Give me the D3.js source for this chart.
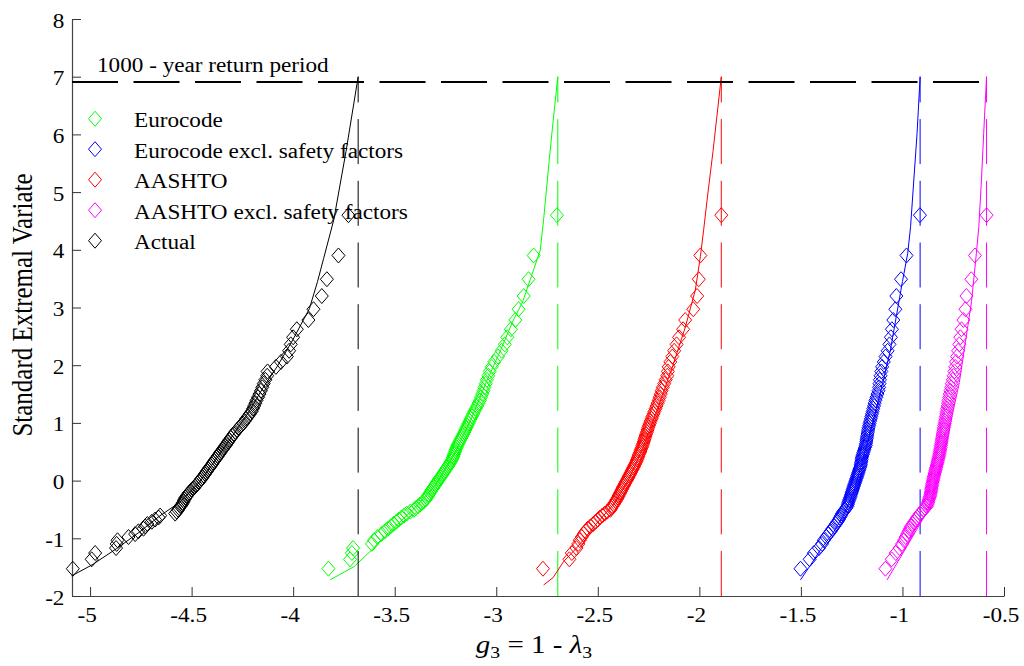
<!DOCTYPE html>
<html><head><meta charset="utf-8">
<script src="https://cdn.jsdelivr.net/npm/d3@7"></script>
<style>
body{margin:0;background:#fff}
svg{display:block}
text{font-family:"Liberation Serif","Times New Roman",serif;fill:#000}
</style>
</head><body><div id="chart"></div>
<script>
// Standard extremal (Gumbel reduced) variate of each ranked observation
const reducedVariate = [-1.527,-1.364,-1.255,-1.169,-1.097,-1.034,-0.978,-0.927,-0.879,-0.834,
-0.792,-0.752,-0.713,-0.676,-0.640,-0.606,-0.572,-0.539,-0.507,-0.476,
-0.445,-0.415,-0.385,-0.356,-0.327,-0.298,-0.270,-0.241,-0.213,-0.186,
-0.158,-0.131,-0.103,-0.076,-0.049,-0.021,0.006,0.033,0.060,0.087,
0.115,0.142,0.170,0.197,0.225,0.253,0.281,0.309,0.338,0.367,
0.396,0.425,0.454,0.484,0.514,0.545,0.576,0.608,0.639,0.672,
0.705,0.738,0.772,0.807,0.842,0.878,0.915,0.953,0.991,1.031,
1.072,1.113,1.156,1.200,1.246,1.293,1.342,1.392,1.445,1.500,
1.557,1.617,1.680,1.747,1.817,1.892,1.971,2.057,2.150,2.250,
2.361,2.484,2.623,2.783,2.970,3.199,3.490,3.902,4.600];

const gEurocode = [-3.826,-3.720,-3.711,-3.705,-3.612,-3.602,-3.585,-3.565,-3.548,-3.534,
-3.519,-3.506,-3.492,-3.480,-3.467,-3.454,-3.441,-3.423,-3.405,-3.396,
-3.385,-3.375,-3.365,-3.355,-3.347,-3.342,-3.337,-3.332,-3.327,-3.322,
-3.317,-3.311,-3.306,-3.300,-3.295,-3.290,-3.285,-3.280,-3.274,-3.269,
-3.264,-3.258,-3.253,-3.248,-3.242,-3.237,-3.232,-3.227,-3.222,-3.217,
-3.214,-3.211,-3.208,-3.205,-3.202,-3.199,-3.195,-3.191,-3.187,-3.182,
-3.177,-3.172,-3.167,-3.162,-3.157,-3.152,-3.147,-3.142,-3.137,-3.131,
-3.126,-3.120,-3.114,-3.108,-3.101,-3.094,-3.087,-3.080,-3.075,-3.069,
-3.063,-3.058,-3.052,-3.046,-3.039,-3.032,-3.022,-3.010,-2.991,-2.974,
-2.958,-2.946,-2.928,-2.906,-2.890,-2.865,-2.841,-2.816,-2.701];

const gEurocodeExcl = [-1.502,-1.457,-1.436,-1.411,-1.396,-1.387,-1.375,-1.364,-1.353,-1.345,
-1.336,-1.328,-1.320,-1.313,-1.308,-1.302,-1.298,-1.291,-1.284,-1.277,
-1.271,-1.269,-1.267,-1.264,-1.261,-1.258,-1.255,-1.253,-1.250,-1.248,
-1.245,-1.243,-1.240,-1.238,-1.235,-1.232,-1.230,-1.227,-1.224,-1.222,
-1.219,-1.217,-1.214,-1.212,-1.209,-1.206,-1.205,-1.204,-1.202,-1.201,
-1.200,-1.198,-1.195,-1.193,-1.190,-1.187,-1.184,-1.181,-1.180,-1.178,
-1.177,-1.175,-1.174,-1.172,-1.170,-1.169,-1.167,-1.164,-1.162,-1.159,
-1.156,-1.153,-1.150,-1.147,-1.144,-1.140,-1.137,-1.133,-1.128,-1.123,
-1.118,-1.115,-1.113,-1.111,-1.108,-1.104,-1.100,-1.092,-1.083,-1.073,
-1.064,-1.057,-1.052,-1.045,-1.035,-1.030,-1.007,-0.980,-0.914];

const gAashto = [-2.770,-2.640,-2.628,-2.605,-2.596,-2.589,-2.579,-2.570,-2.560,-2.550,
-2.536,-2.522,-2.511,-2.500,-2.490,-2.478,-2.466,-2.454,-2.438,-2.433,
-2.428,-2.423,-2.417,-2.412,-2.407,-2.402,-2.398,-2.394,-2.390,-2.386,
-2.382,-2.378,-2.374,-2.370,-2.366,-2.362,-2.357,-2.353,-2.349,-2.345,
-2.341,-2.337,-2.333,-2.329,-2.325,-2.321,-2.317,-2.313,-2.309,-2.306,
-2.303,-2.300,-2.297,-2.293,-2.290,-2.287,-2.283,-2.280,-2.277,-2.274,
-2.271,-2.268,-2.265,-2.262,-2.258,-2.255,-2.252,-2.248,-2.244,-2.240,
-2.235,-2.231,-2.226,-2.221,-2.216,-2.211,-2.205,-2.200,-2.195,-2.190,
-2.186,-2.180,-2.173,-2.166,-2.158,-2.155,-2.151,-2.143,-2.133,-2.124,
-2.112,-2.100,-2.080,-2.070,-2.030,-2.011,-2.003,-1.995,-1.892];

const gAashtoExcl = [-1.084,-1.053,-1.033,-1.014,-1.002,-0.992,-0.984,-0.977,-0.970,-0.964,
-0.958,-0.949,-0.941,-0.934,-0.927,-0.920,-0.913,-0.904,-0.896,-0.888,
-0.880,-0.877,-0.874,-0.872,-0.870,-0.867,-0.864,-0.862,-0.861,-0.859,
-0.858,-0.857,-0.856,-0.854,-0.853,-0.851,-0.849,-0.848,-0.846,-0.844,
-0.842,-0.840,-0.838,-0.836,-0.834,-0.832,-0.830,-0.828,-0.826,-0.824,
-0.822,-0.820,-0.818,-0.817,-0.815,-0.814,-0.812,-0.811,-0.809,-0.808,
-0.806,-0.805,-0.803,-0.801,-0.800,-0.798,-0.796,-0.794,-0.792,-0.790,
-0.788,-0.786,-0.784,-0.782,-0.780,-0.777,-0.775,-0.773,-0.770,-0.767,
-0.764,-0.760,-0.757,-0.752,-0.748,-0.744,-0.740,-0.736,-0.731,-0.726,
-0.720,-0.715,-0.709,-0.700,-0.690,-0.685,-0.661,-0.643,-0.586];

const gActual = [-5.085,-4.992,-4.975,-4.872,-4.869,-4.865,-4.811,-4.778,-4.762,-4.737,
-4.729,-4.718,-4.696,-4.680,-4.663,-4.655,-4.581,-4.573,-4.566,-4.561,
-4.555,-4.548,-4.543,-4.539,-4.535,-4.531,-4.525,-4.519,-4.513,-4.506,
-4.498,-4.491,-4.484,-4.477,-4.471,-4.463,-4.457,-4.451,-4.446,-4.440,
-4.434,-4.429,-4.423,-4.418,-4.412,-4.406,-4.400,-4.395,-4.389,-4.383,
-4.377,-4.371,-4.365,-4.359,-4.353,-4.346,-4.340,-4.333,-4.327,-4.320,
-4.314,-4.307,-4.300,-4.293,-4.285,-4.276,-4.266,-4.257,-4.247,-4.239,
-4.231,-4.222,-4.213,-4.204,-4.198,-4.192,-4.186,-4.180,-4.173,-4.166,
-4.159,-4.152,-4.145,-4.137,-4.128,-4.126,-4.085,-4.060,-4.031,-4.020,
-4.012,-4.000,-3.982,-3.925,-3.900,-3.859,-3.834,-3.777,-3.728];

// Fitted distribution curves (g3, reduced variate)
const fitEurocodeG = [-3.818,-3.70,-3.60,-3.50,-3.40,-3.30,-3.20,-3.12,-3.05,-2.98,-2.92,-2.87,-2.833,-2.783,-2.767,-2.739,-2.723,-2.697];
const fitEurocodeV = [-1.72,-1.49,-1.16,-0.80,-0.47,-0.08,0.50,1.10,1.70,2.25,2.75,3.10,3.48,4.00,4.52,5.56,6.13,7.00];
const fitEurocodeExclG = [-1.502,-1.45,-1.40,-1.34,-1.29,-1.24,-1.20,-1.15,-1.10,-1.06,-1.03,-1.00,-0.974,-0.96,-0.944,-0.928,-0.913];
const fitEurocodeExclV = [-1.72,-1.45,-1.18,-0.90,-0.60,-0.20,0.30,0.95,1.65,2.25,2.85,3.45,3.94,4.40,5.21,6.02,7.00];
const fitAashtoG = [-2.767,-2.72,-2.668,-2.60,-2.50,-2.42,-2.35,-2.28,-2.20,-2.13,-2.07,-2.02,-1.995,-1.979,-1.962,-1.933,-1.892];
const fitAashtoV = [-1.81,-1.68,-1.40,-1.15,-0.72,-0.40,0.00,0.55,1.30,2.00,2.65,3.30,3.88,4.34,4.86,5.70,7.00];
const fitAashtoExclG = [-1.076,-1.03,-0.98,-0.93,-0.88,-0.84,-0.80,-0.76,-0.72,-0.69,-0.66,-0.636,-0.624,-0.611,-0.600,-0.586];
const fitAashtoExclV = [-1.72,-1.45,-1.15,-0.85,-0.55,-0.15,0.40,1.05,1.70,2.40,3.10,3.94,4.40,5.21,6.02,7.00];
const fitActualG = [-5.09,-4.99,-4.87,-4.76,-4.66,-4.56,-4.46,-4.38,-4.30,-4.22,-4.15,-4.08,-4.00,-3.92,-3.88,-3.85,-3.80,-3.74,-3.68];
const fitActualV = [-1.65,-1.46,-1.18,-0.90,-0.62,-0.38,-0.02,0.37,0.77,1.18,1.60,1.97,2.45,2.98,3.45,3.85,4.52,5.70,7.00];

// 1000-year return levels of g3 and the corresponding reduced variate
const returnLevels = [-2.697,-0.913,-1.892,-0.586,-3.68];
const returnVariate = 6.907;
const verticalTop = 7.0;

const seriesNames = ["Eurocode","Eurocode excl. safety factors","AASHTO","AASHTO excl. safety factors","Actual"];
const seriesColors = ["#00ff00","#0000ff","#ff0000","#ff00ff","#000000"];
const xTicks = [-5,-4.5,-4,-3.5,-3,-2.5,-2,-1.5,-1,-0.5];
const yTicks = [-2,-1,0,1,2,3,4,5,6,7,8];

const seriesG = [gEurocode,gEurocodeExcl,gAashto,gAashtoExcl,gActual];
const fitG = [fitEurocodeG,fitEurocodeExclG,fitAashtoG,fitAashtoExclG,fitActualG];
const fitV = [fitEurocodeV,fitEurocodeExclV,fitAashtoV,fitAashtoExclV,fitActualV];

const W=1024,H=666, SX=1.16;
const FONT='"Liberation Serif","Times New Roman",serif';
const svg=d3.select('#chart').append('svg').attr('width',W).attr('height',H);
const x=d3.scaleLinear().domain([-5.089,-0.5]).range([72,1004]);
const y=d3.scaleLinear().domain([-2,8]).range([596,19]);

// axes
const gx=svg.append('g').attr('transform','translate(0,'+y(-2)+')')
  .call(d3.axisBottom(x).tickValues(xTicks).tickFormat(d=>String(d)).tickSizeInner(-9).tickSizeOuter(0).tickPadding(12));
const gy=svg.append('g').attr('transform','translate('+x.range()[0]+',0)')
  .call(d3.axisLeft(y).tickValues(yTicks).tickFormat(d=>String(d)).tickSizeInner(-9).tickSizeOuter(0).tickPadding(6.5));
[gx,gy].forEach(g=>{
  g.attr('font-family',FONT).attr('font-size',20);
  g.select('.domain').attr('stroke','#444').attr('stroke-width',1.2);
  g.selectAll('.tick line').attr('stroke','#333');
  g.selectAll('.tick text').attr('fill','#000');
});
gx.selectAll('.tick text').attr('transform','translate(-3.5,0) scale('+SX+',1)');
gy.selectAll('.tick text').attr('dy','0.40em').attr('transform','scale('+SX+',1)');

const diamond='M0,-7.5L6.5,0L0,7.5L-6.5,0Z';
const line=d3.line().x(d=>x(d[0])).y(d=>y(d[1]));

// legend
const leg=svg.append('g');
seriesNames.forEach((name,i)=>{
  const cy=118.7+i*30.5;
  leg.append('path').attr('d',diamond).attr('transform','translate(95,'+cy+')')
    .attr('fill','none').attr('stroke',seriesColors[i]).attr('stroke-width',1);
  leg.append('text').attr('transform','translate(134,'+(cy+8.5)+') scale('+SX+',1)')
    .attr('font-size',20).text(name);
});

// data
seriesG.forEach((gs,i)=>{
  const g=svg.append('g');
  g.selectAll('path.m').data(gs.map((v,k)=>[v,reducedVariate[k]])).enter().append('path')
    .attr('class','m').attr('d',diamond)
    .attr('transform',d=>'translate('+x(d[0])+','+y(d[1])+')')
    .attr('fill','none').attr('stroke',seriesColors[i]).attr('stroke-width',1);
  g.append('path').datum(fitG[i].map((v,k)=>[v,fitV[i][k]])).attr('d',line)
    .attr('fill','none').attr('stroke',seriesColors[i]).attr('stroke-width',1);
  g.append('path').datum([[returnLevels[i],-2],[returnLevels[i],verticalTop]]).attr('d',line)
    .attr('fill','none').attr('stroke',seriesColors[i]).attr('stroke-width',1).attr('stroke-dasharray','45,16.7');
});

// 1000-year horizontal line
svg.append('path').datum([[x.domain()[0],returnVariate],[d3.max(returnLevels),returnVariate]]).attr('d',line)
  .attr('fill','none').attr('stroke','#000').attr('stroke-width',2).attr('stroke-dasharray','46,15.5');

svg.append('text').attr('transform','translate(97,72) scale('+SX+',1)').attr('font-size',20)
  .text('1000 - year return period');

// axis labels
const xl=svg.append('text').attr('transform','translate(534,653) scale('+SX+',1)')
  .attr('font-size',25).attr('text-anchor','middle');
xl.append('tspan').attr('font-style','italic').text('g');
xl.append('tspan').attr('font-size',17).attr('dy',5).text('3');
xl.append('tspan').attr('dy',-5).text(' = 1 - ');
xl.append('tspan').attr('font-style','italic').text('λ');
xl.append('tspan').attr('font-size',17).attr('dy',5).text('3');

svg.append('text').attr('transform','translate(32,305) scale('+SX+',1) rotate(-90)')
  .attr('font-size',25).attr('text-anchor','middle').text('Standard Extremal Variate');
</script></body></html>
